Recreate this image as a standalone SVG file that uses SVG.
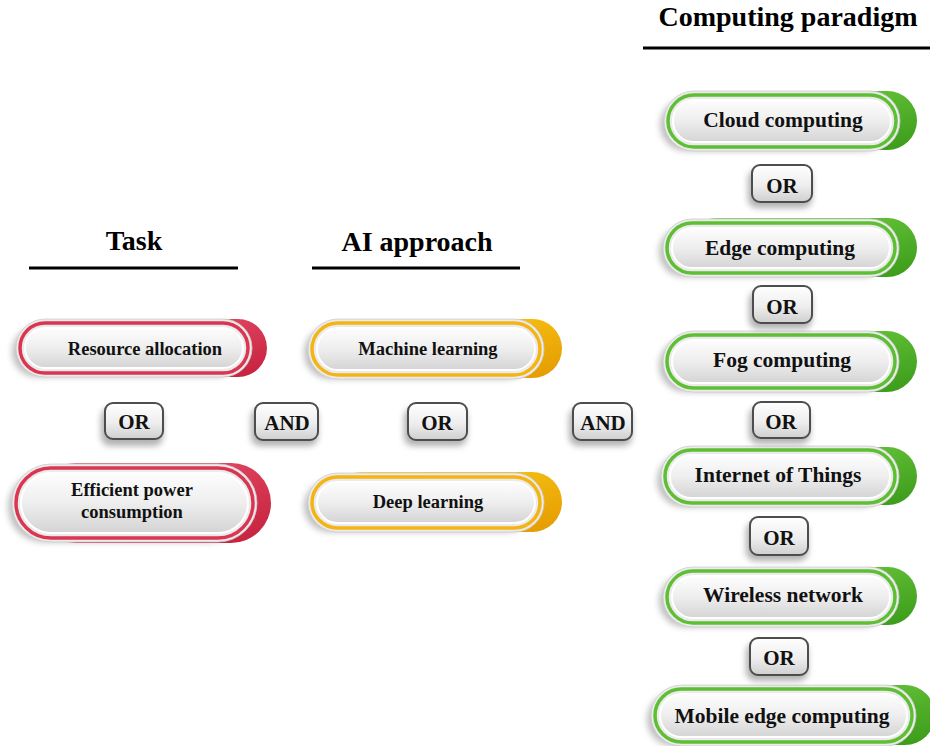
<svg xmlns="http://www.w3.org/2000/svg" width="930" height="746" viewBox="0 0 930 746">
<defs>
<filter id="blur" x="-20%" y="-40%" width="140%" height="180%"><feGaussianBlur stdDeviation="3"/></filter>
<linearGradient id="inner" x1="0" y1="0" x2="0" y2="1">
<stop offset="0" stop-color="#fdfdfd"/><stop offset="0.5" stop-color="#eeeeee"/><stop offset="1" stop-color="#d4d4d4"/>
</linearGradient>
<linearGradient id="gred" x1="0" y1="0" x2="1" y2="1">
<stop offset="0" stop-color="#f05a74"/><stop offset="1" stop-color="#c4203c"/>
</linearGradient>
<linearGradient id="gyel" x1="0" y1="0" x2="1" y2="1">
<stop offset="0" stop-color="#ffd21c"/><stop offset="1" stop-color="#e49a00"/>
</linearGradient>
<linearGradient id="ggrn" x1="0" y1="0" x2="1" y2="1">
<stop offset="0" stop-color="#7ad64a"/><stop offset="1" stop-color="#3a9a18"/>
</linearGradient>
<linearGradient id="logic" x1="0" y1="0" x2="0" y2="1">
<stop offset="0" stop-color="#ffffff"/><stop offset="0.55" stop-color="#eeeeee"/><stop offset="1" stop-color="#cfcfcf"/>
</linearGradient>
</defs>
<style>
.hd{font-family:"Liberation Serif","Times New Roman",serif;font-weight:bold;font-size:28px;fill:#000;text-anchor:middle}
.tx{font-family:"Liberation Serif","Times New Roman",serif;font-weight:bold;font-size:18.5px;fill:#111;text-anchor:middle}
.tg{font-family:"Liberation Serif","Times New Roman",serif;font-weight:bold;font-size:21.5px;fill:#111;text-anchor:middle}
.tl{font-family:"Liberation Serif","Times New Roman",serif;font-weight:bold;font-size:21px;fill:#111;text-anchor:middle}
.sh{fill:#8a8a8a;opacity:0.55;filter:url(#blur)}
.band{fill:#ebebeb;stroke:#cccccc;stroke-width:0.8}
.inn{fill:url(#inner);stroke:#ffffff;stroke-width:2}
.rr{fill:none;stroke:#dc3552;stroke-width:3.5}
.ry{fill:none;stroke:#f3b414;stroke-width:3.5}
.rg{fill:none;stroke:#5fbf34;stroke-width:3.5}
.lsh{fill:#888888;opacity:0.65;filter:url(#blur)}
.lb{fill:url(#logic);stroke:#4d4d4d;stroke-width:2}
.line{stroke:#000;stroke-width:3}
</style>
<rect width="930" height="746" fill="#ffffff"/>

<g id="headers">
<text class="hd" x="788" y="26">Computing paradigm</text>
<line class="line" x1="643" y1="48" x2="930" y2="48"/>
<text class="hd" x="134" y="250">Task</text>
<line class="line" x1="29" y1="268" x2="238" y2="268"/>
<text class="hd" x="417" y="251">AI approach</text>
<line class="line" x1="312" y1="268" x2="520" y2="268"/>
</g>

<g id="resource-allocation">
<rect class="sh" x="12" y="327" width="228" height="50" rx="25"/>
<rect x="40" y="319" width="227" height="58" rx="29" fill="url(#gred)"/>
<rect class="band" x="16" y="319" width="236" height="58" rx="29"/>
<rect class="rr" x="20" y="323" width="228" height="50" rx="25"/>
<rect class="inn" x="25" y="328" width="218" height="40" rx="20"/>
<text class="tx" x="145" y="355">Resource allocation</text>
</g>

<g id="efficient-power">
<rect class="sh" x="8" y="472" width="237" height="70" rx="35"/>
<rect x="36" y="463" width="235" height="80" rx="40" fill="url(#gred)"/>
<rect class="band" x="12" y="464" width="245" height="78" rx="39"/>
<rect class="rr" x="16" y="468" width="237" height="70" rx="35"/>
<rect class="inn" x="21" y="473" width="227" height="60" rx="30"/>
<text class="tx" x="132" y="496">Efficient power</text>
<text class="tx" x="132" y="518">consumption</text>
</g>

<g id="machine-learning">
<rect class="sh" x="304" y="327" width="228" height="52" rx="26"/>
<rect x="332" y="319" width="230" height="59" rx="29.5" fill="url(#gyel)"/>
<rect class="band" x="308" y="319" width="236" height="60" rx="30"/>
<rect class="ry" x="312" y="323" width="228" height="52" rx="26"/>
<rect class="inn" x="317" y="328" width="218" height="42" rx="21"/>
<text class="tx" x="428" y="355">Machine learning</text>
</g>

<g id="deep-learning">
<rect class="sh" x="304" y="481" width="228" height="51" rx="25.5"/>
<rect x="332" y="472" width="230" height="60" rx="30" fill="url(#gyel)"/>
<rect class="band" x="308" y="473" width="236" height="59" rx="29.5"/>
<rect class="ry" x="312" y="477" width="228" height="51" rx="25.5"/>
<rect class="inn" x="317" y="482" width="218" height="41" rx="20.5"/>
<text class="tx" x="428" y="508">Deep learning</text>
</g>

<g id="cloud-computing">
<rect class="sh" x="660" y="99" width="228" height="52" rx="26"/>
<rect x="688" y="91" width="229" height="59" rx="29.5" fill="url(#ggrn)"/>
<rect class="band" x="664" y="91" width="236" height="60" rx="30"/>
<rect class="rg" x="668" y="95" width="228" height="52" rx="26"/>
<rect class="inn" x="673" y="100" width="218" height="42" rx="21"/>
<text class="tg" x="783" y="127">Cloud computing</text>
</g>

<g id="edge-computing">
<rect class="sh" x="659" y="227" width="228" height="50" rx="25"/>
<rect x="687" y="218" width="230" height="59" rx="29.5" fill="url(#ggrn)"/>
<rect class="band" x="663" y="219" width="236" height="58" rx="29"/>
<rect class="rg" x="667" y="223" width="228" height="50" rx="25"/>
<rect class="inn" x="672" y="228" width="218" height="40" rx="20"/>
<text class="tg" x="780" y="255">Edge computing</text>
</g>

<g id="fog-computing">
<rect class="sh" x="659" y="339" width="228" height="53" rx="26.5"/>
<rect x="687" y="331" width="230" height="61" rx="30.5" fill="url(#ggrn)"/>
<rect class="band" x="663" y="331" width="236" height="61" rx="30.5"/>
<rect class="rg" x="667" y="335" width="228" height="53" rx="26.5"/>
<rect class="inn" x="672" y="340" width="218" height="43" rx="21.5"/>
<text class="tg" x="782" y="367">Fog computing</text>
</g>

<g id="internet-of-things">
<rect class="sh" x="657" y="454" width="230" height="53" rx="26.5"/>
<rect x="685" y="447" width="232" height="58" rx="29" fill="url(#ggrn)"/>
<rect class="band" x="661" y="446" width="238" height="61" rx="30.5"/>
<rect class="rg" x="665" y="450" width="230" height="53" rx="26.5"/>
<rect class="inn" x="670" y="455" width="220" height="43" rx="21.5"/>
<text class="tg" x="778" y="482">Internet of Things</text>
</g>

<g id="wireless-network">
<rect class="sh" x="659" y="575" width="228" height="52" rx="26"/>
<rect x="687" y="567" width="230" height="58" rx="29" fill="url(#ggrn)"/>
<rect class="band" x="663" y="567" width="236" height="60" rx="30"/>
<rect class="rg" x="667" y="571" width="228" height="52" rx="26"/>
<rect class="inn" x="672" y="576" width="218" height="42" rx="21"/>
<text class="tg" x="783" y="602">Wireless network</text>
</g>

<g id="mobile-edge-computing">
<rect class="sh" x="647" y="693" width="257" height="53" rx="26.5"/>
<rect x="675" y="685" width="260" height="60" rx="30" fill="url(#ggrn)"/>
<rect class="band" x="651" y="685" width="265" height="61" rx="30.5"/>
<rect class="rg" x="655" y="689" width="257" height="53" rx="26.5"/>
<rect class="inn" x="660" y="694" width="247" height="43" rx="21.5"/>
<text class="tg" x="782" y="723">Mobile edge computing</text>
</g>

<g id="connectors">
<g id="or-task">
<rect class="lsh" x="101" y="408" width="62" height="38" rx="9"/>
<rect class="lb" x="105" y="403" width="58" height="36" rx="8"/>
<text class="tl" x="134" y="429">OR</text>
</g>
<g id="and-1">
<rect class="lsh" x="251" y="408" width="67" height="38" rx="9"/>
<rect class="lb" x="255" y="403" width="63" height="37" rx="8"/>
<text class="tl" x="287" y="430">AND</text>
</g>
<g id="or-ai">
<rect class="lsh" x="404" y="408" width="63" height="38" rx="9"/>
<rect class="lb" x="408" y="403" width="59" height="37" rx="8"/>
<text class="tl" x="437" y="430">OR</text>
</g>
<g id="and-2">
<rect class="lsh" x="569" y="408" width="63" height="38" rx="9"/>
<rect class="lb" x="573" y="403" width="59" height="37" rx="8"/>
<text class="tl" x="603" y="430">AND</text>
</g>
<g id="or-g1">
<rect class="lsh" x="748" y="170" width="64" height="38" rx="9"/>
<rect class="lb" x="752" y="165" width="60" height="37" rx="8"/>
<text class="tl" x="782" y="193">OR</text>
</g>
<g id="or-g2">
<rect class="lsh" x="749" y="291" width="63" height="38" rx="9"/>
<rect class="lb" x="753" y="286" width="59" height="37" rx="8"/>
<text class="tl" x="782" y="314">OR</text>
</g>
<g id="or-g3">
<rect class="lsh" x="749" y="407" width="61" height="37" rx="9"/>
<rect class="lb" x="753" y="402" width="57" height="36" rx="8"/>
<text class="tl" x="781" y="429">OR</text>
</g>
<g id="or-g4">
<rect class="lsh" x="746" y="522" width="62" height="39" rx="9"/>
<rect class="lb" x="750" y="517" width="58" height="38" rx="8"/>
<text class="tl" x="779" y="545">OR</text>
</g>
<g id="or-g5">
<rect class="lsh" x="746" y="643" width="62" height="38" rx="9"/>
<rect class="lb" x="750" y="638" width="58" height="37" rx="8"/>
<text class="tl" x="779" y="665">OR</text>
</g>
</g>
</svg>
